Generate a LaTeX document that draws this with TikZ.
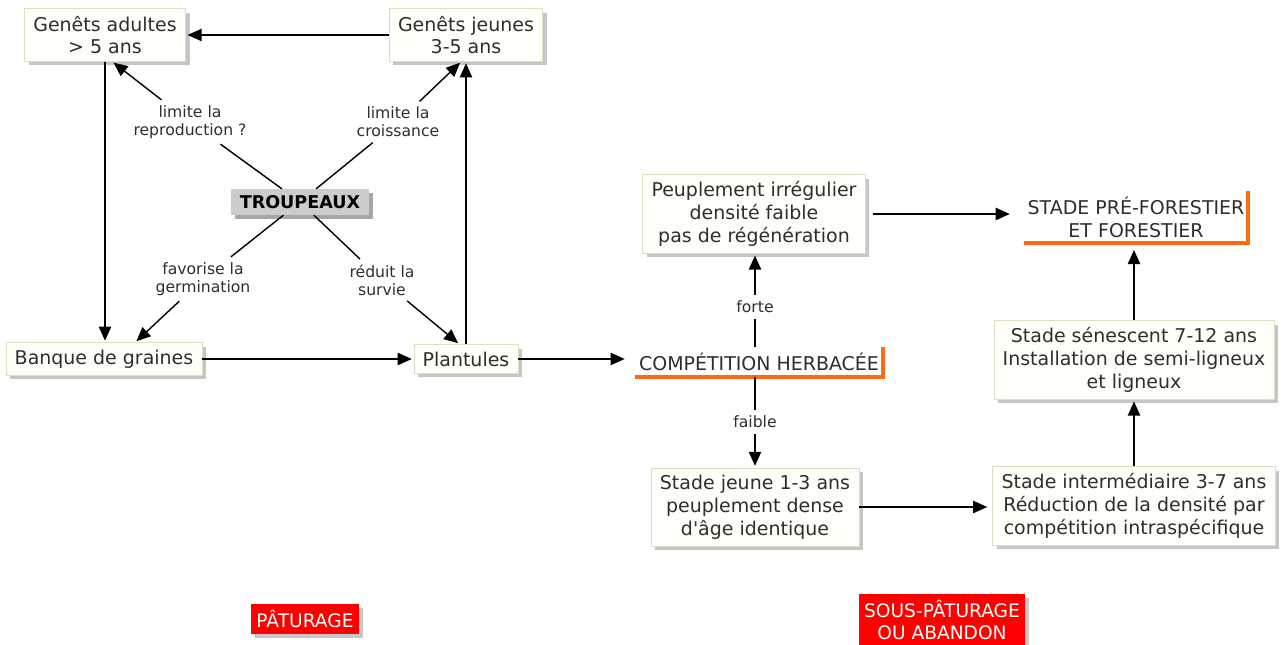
\documentclass[tikz,border=0pt]{standalone}
\usepackage{fontspec}
\setmainfont{DejaVu Sans}
\usetikzlibrary{arrows.meta,shadows}
\definecolor{boxfill}{HTML}{FFFFFA}
\definecolor{boxline}{HTML}{E2DCC2}
\definecolor{shade}{HTML}{C6C6C6}
\definecolor{herbe}{HTML}{FF6A13}
\definecolor{rouge}{HTML}{FF0000}
\definecolor{ink}{HTML}{2E2E2E}
\begin{document}
\begin{tikzpicture}[x=0.02cm,y=-0.02cm,
  concept/.style={draw=boxline,fill=boxfill,text=ink,align=center,
    inner xsep=5pt,inner ysep=4pt,font=\fontsize{10.8}{13}\selectfont,
    general shadow={fill=shade,shadow xshift=2.3pt,shadow yshift=-2.3pt}},
  stade/.style={text=ink,align=center,inner xsep=2pt,inner ysep=3pt,
    font=\fontsize{10.8}{13}\selectfont},
  troupe/.style={fill=gray!40,text=black,inner xsep=5pt,inner ysep=3.5pt,
    font=\fontsize{10}{12}\selectfont\bfseries,
    general shadow={fill=gray!70,shadow xshift=2.3pt,shadow yshift=-2.3pt}},
  alerte/.style={fill=rouge,text=white,align=center,inner xsep=3pt,inner ysep=3.5pt,
    font=\fontsize{10.6}{13}\selectfont,
    general shadow={fill=shade,shadow xshift=2.3pt,shadow yshift=-2.3pt}},
  lien/.style={text=ink,align=center,inner sep=3pt,font=\fontsize{8.9}{10.2}\selectfont},
  fleche/.style={line width=0.8pt,-{Triangle[length=8pt,width=7pt]},shorten >=1pt},
  trait/.style={line width=0.8pt},
  liseret/.style={draw=herbe,line width=2.3pt}]
\useasboundingbox (0,0) rectangle (1284,645);

\node[concept] (adu) at (105,35) {Genêts adultes\\> 5 ans};
\node[concept] (jeu) at (466,35) {Genêts jeunes\\3-5 ans};
\node[troupe] (trp) at (300,202) {TROUPEAUX};
\node[concept] (ban) at (104,359) {Banque de graines};
\node[concept] (pla) at (466,359) {Plantules};

\node[lien] (lrep) at (190,122) {limite la\\reproduction ?};
\node[lien] (lcro) at (398,122) {limite la\\croissance};
\node[lien] (lger) at (203,279) {favorise la\\germination};
\node[lien] (lsur) at (382,280) {réduit la\\survie};

\node[stade] (comp) at (759,362) {COMPÉTITION HERBACÉE};
\node[concept] (peu) at (754,214) {Peuplement irrégulier\\densité faible\\pas de régénération};
\node[stade] (pfor) at (1136,217) {STADE PRÉ-FORESTIER\\ET FORESTIER};
\node[concept] (sen) at (1134,360) {Stade sénescent 7-12 ans\\Installation de semi-ligneux\\et ligneux};
\node[concept] (jst) at (755,507) {Stade jeune 1-3 ans\\peuplement dense\\d\textquotesingle âge identique};
\node[concept] (inter) at (1134,506) {Stade intermédiaire 3-7 ans\\Réduction de la densité par\\compétition intraspécifique};

\node[lien] (lfor) at (755,307) {forte};
\node[lien] (lfai) at (755,422) {faible};

\node[alerte] (pat) at (305,619) {PÂTURAGE};
\node[alerte] (sous) at (942,620) {SOUS-PÂTURAGE\\OU ABANDON};

\draw[liseret] (comp.south west) -- (comp.south east) -- (comp.north east);
\draw[liseret] (pfor.south west) -- (pfor.south east) -- (pfor.north east);

\draw[fleche] (jeu) -- (adu);
\draw[fleche] (adu.south) -- (adu.south |- ban.north);
\draw[fleche] (pla.north) -- (pla.north |- jeu.south);
\draw[trait] (trp) -- (lrep);
\draw[fleche] (lrep) -- (adu.-75);
\draw[trait] (trp) -- (lcro);
\draw[fleche] (lcro) -- (jeu.-100);
\draw[trait] (trp) -- (lger);
\draw[fleche] (lger) -- (ban.28);
\draw[trait] (trp) -- (lsur);
\draw[fleche] (lsur) -- (pla.114);
\draw[fleche] (ban) -- (pla);
\draw[fleche,shorten >=6pt] (pla) -- (pla -| comp.west);

\draw[trait] (lfor |- comp.north) -- (lfor);
\draw[fleche] (lfor) -- (lfor |- peu.south);
\draw[trait] (lfai |- comp.south) -- (lfai);
\draw[fleche] (lfai) -- (lfai |- jst.north);
\draw[fleche,shorten <=4pt,shorten >=8pt] (peu) -- (peu -| pfor.west);
\draw[fleche,shorten >=3pt] (jst) -- (jst -| inter.west);
\draw[fleche] (inter) -- (sen);
\draw[fleche,shorten >=4pt] (sen.north) -- (sen.north |- pfor.south);
\end{tikzpicture}
\end{document}
